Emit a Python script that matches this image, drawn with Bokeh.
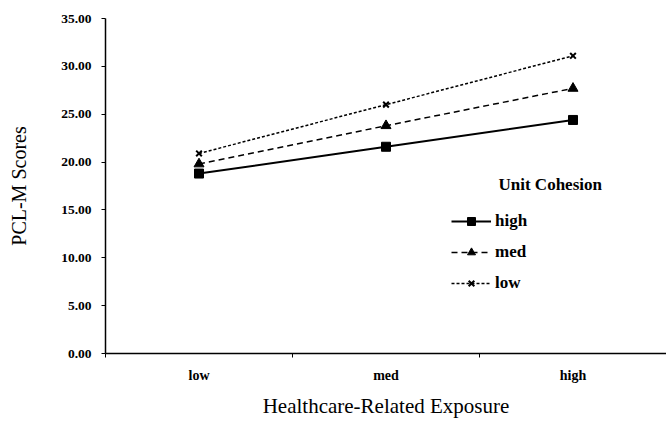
from bokeh.plotting import figure
from bokeh.models import Range1d, FixedTicker, Legend, LegendItem, NumeralTickFormatter, Label
from bokeh.embed import file_html
from bokeh.resources import INLINE

categories = ["low", "med", "high"]
high_cohesion = [18.8, 21.6, 24.4]
med_cohesion = [19.8, 23.8, 27.7]
low_cohesion = [20.9, 26.0, 31.1]
y_ticks = [0, 5, 10, 15, 20, 25, 30, 35]

xs = [i + 0.5 for i in range(len(categories))]
FONT = "Liberation Serif"

p = figure(width=666, height=420, output_backend="svg", toolbar_location=None,
           x_range=Range1d(0, len(categories)), y_range=Range1d(0, 35),
           min_border_left=105, min_border_right=0, min_border_top=18, min_border_bottom=20)
p.outline_line_color = None
p.grid.grid_line_color = None
p.background_fill_color = "white"

# x axis
p.xaxis.ticker = FixedTicker(ticks=xs, minor_ticks=list(range(len(categories) + 1)))
p.xaxis.major_label_overrides = {x: c for x, c in zip(xs, categories)}
p.xaxis.major_tick_line_color = None
p.xaxis.minor_tick_in = 0
p.xaxis.minor_tick_out = 4
p.xaxis.minor_tick_line_color = "black"
p.xaxis.major_label_standoff = 8
p.xaxis.major_label_text_font = FONT
p.xaxis.major_label_text_font_style = "bold"
p.xaxis.major_label_text_font_size = "14px"
p.xaxis.major_label_text_color = "black"
p.xaxis.axis_label = "Healthcare-Related Exposure"
p.xaxis.axis_label_text_font = FONT
p.xaxis.axis_label_text_font_style = "normal"
p.xaxis.axis_label_text_font_size = "21px"
p.xaxis.axis_label_text_color = "black"
p.xaxis.axis_label_standoff = 8
p.xaxis.axis_line_color = "black"
p.xaxis.axis_line_width = 1.5

# y axis
p.yaxis.ticker = FixedTicker(ticks=y_ticks, minor_ticks=[])
p.yaxis.formatter = NumeralTickFormatter(format="0.00")
p.yaxis.major_tick_in = 0
p.yaxis.major_tick_out = 4
p.yaxis.major_tick_line_color = "black"
p.yaxis.major_label_standoff = 10
p.yaxis.major_label_text_font = FONT
p.yaxis.major_label_text_font_style = "bold"
p.yaxis.major_label_text_font_size = "13.5px"
p.yaxis.major_label_text_color = "black"
p.yaxis.axis_label = "PCL-M Scores"
p.yaxis.axis_label_text_font = FONT
p.yaxis.axis_label_text_font_style = "normal"
p.yaxis.axis_label_text_font_size = "20px"
p.yaxis.axis_label_text_color = "black"
p.yaxis.axis_label_standoff = 28
p.yaxis.axis_line_color = "black"
p.yaxis.axis_line_width = 1.5

l1 = p.line(xs, high_cohesion, line_color="black", line_width=2)
m1 = p.scatter(xs, high_cohesion, marker="square", size=9, color="black")
l2 = p.line(xs, med_cohesion, line_color="black", line_width=1.5, line_dash="6 4")
m2 = p.scatter(xs, med_cohesion, marker="triangle", size=10, color="black")
l3 = p.line(xs, low_cohesion, line_color="black", line_width=1.5, line_dash="3 2")
m3 = p.scatter(xs, low_cohesion, marker="x", size=8, line_color="black", line_width=2)

legend = Legend(items=[
    LegendItem(label="high", renderers=[l1, m1]),
    LegendItem(label="med", renderers=[l2, m2]),
    LegendItem(label="low", renderers=[l3, m3]),
], location=(346, 60))
legend.border_line_color = None
legend.background_fill_alpha = 0
legend.label_text_font = FONT
legend.label_text_font_style = "bold"
legend.label_text_font_size = "17px"
legend.label_text_color = "black"
legend.glyph_width = 40
legend.glyph_height = 20
legend.label_standoff = 4
legend.spacing = 11
legend.padding = 4
legend.margin = 0
p.add_layout(legend, "center")

title = Label(x=393, y=169, x_units="screen", y_units="screen", text="Unit Cohesion",
              text_font=FONT, text_font_style="bold", text_font_size="17px",
              text_color="black", text_baseline="middle", text_align="left")
p.add_layout(title)

open("out.html", "w").write(file_html(p, INLINE))
